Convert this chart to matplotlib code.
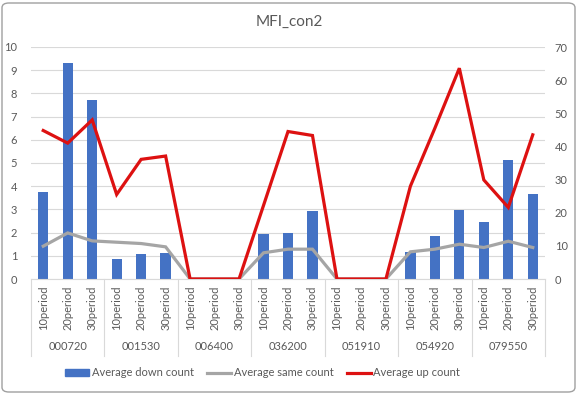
import matplotlib.pyplot as plt
import numpy as np
from matplotlib.patches import FancyBboxPatch, Patch
from matplotlib.lines import Line2D
import matplotlib.transforms as mtransforms

codes = ["000720", "001530", "006400", "036200", "051910", "054920", "079550"]
periods = ["10period", "20period", "30period"]

down_count = [3.75, 9.3, 7.7,
              0.86, 1.08, 1.13,
              0, 0, 0,
              1.92, 2.0, 2.95,
              0, 0, 0,
              1.17, 1.87, 2.97,
              2.47, 5.15, 3.68]
same_count = [9.9, 13.9, 11.5,
              11.1, 10.7, 9.7,
              0, 0, 0,
              7.9, 9.0, 9.0,
              0, 0, 0,
              8.2, 9.0, 10.5,
              9.5, 11.4, 9.5]
up_count = [44.8, 41.0, 48.0,
            25.5, 36.1, 37.1,
            0, 0, 0,
            22.2, 44.5, 43.3,
            0, 0, 0,
            28.0, 45.5, 63.6,
            29.9, 21.6, 43.5]

plt.rcParams["font.family"] = ["Lato", "DejaVu Sans"]

blue = "#4472C4"
gray = "#A5A5A5"
red = "#DD1111"
txt = "#595959"
grid = "#D9D9D9"

fig = plt.figure(figsize=(5.77, 3.94), dpi=100)
ax = fig.add_axes([31 / 577, 1 - 279 / 394, 514 / 577, 232 / 394])
ax2 = ax.twinx()

n = len(down_count)
x = np.arange(n)

ax.bar(x, down_count, width=0.42, color=blue, zorder=2)
ax2.plot(x, same_count, color=gray, lw=2.3, solid_joinstyle="miter", zorder=3)
ax2.plot(x, up_count, color=red, lw=2.3, solid_joinstyle="miter", zorder=4)

ax.set_xlim(-0.5, n - 0.5)
ax.set_ylim(0, 10)
ax2.set_ylim(0, 70)
ax.set_yticks(range(0, 11))
ax2.set_yticks(range(0, 71, 10))
ax.yaxis.grid(True, color=grid, lw=0.8, zorder=0)
ax.set_axisbelow(True)

for a in (ax, ax2):
    for s in a.spines.values():
        s.set_visible(False)
    a.tick_params(axis="y", length=0, labelsize=8, labelcolor=txt)
ax.tick_params(axis="y", pad=10)
ax2.tick_params(axis="y", pad=7)

ax.spines["bottom"].set_visible(True)
ax.spines["bottom"].set_color(grid)
ax.set_xticks(x)
ax.set_xticklabels(periods * len(codes), rotation=90, fontsize=8, color=txt)
ax.tick_params(axis="x", length=0, pad=5)

# group labels and separators
trans = mtransforms.blended_transform_factory(ax.transData, ax.transAxes)
for i, c in enumerate(codes):
    ax.text(3 * i + 1, -0.293, c, transform=trans, ha="center", va="center",
            fontsize=8, color=txt)
for b in np.arange(len(codes) + 1) * 3 - 0.5:
    ax.plot([b, b], [0, -0.33], transform=trans, color=grid, lw=0.8, clip_on=False)

fig.text(0.502, 1 - 22 / 394, "MFI_con2", ha="center", va="center", fontsize=11, color=txt)

handles = [Patch(color=blue), Line2D([], [], color=gray, lw=2.3), Line2D([], [], color=red, lw=2.3)]
fig.legend(handles, ["Average down count", "Average same count", "Average up count"],
           loc="center", bbox_to_anchor=(0.455, 1 - 373 / 394), ncol=3, frameon=False,
           fontsize=8, labelcolor=txt, handlelength=2.2, handleheight=0.6,
           handletextpad=0.2, columnspacing=1.2)

# chart frame
fig.patches.append(FancyBboxPatch((2 / 577, 2 / 394), 573 / 577, 389 / 394,
                                  boxstyle="round,pad=0,rounding_size=0.012",
                                  transform=fig.transFigure, fill=False,
                                  edgecolor="#A0A0A0", lw=1.0))

fig.savefig("out.png", dpi=100)
